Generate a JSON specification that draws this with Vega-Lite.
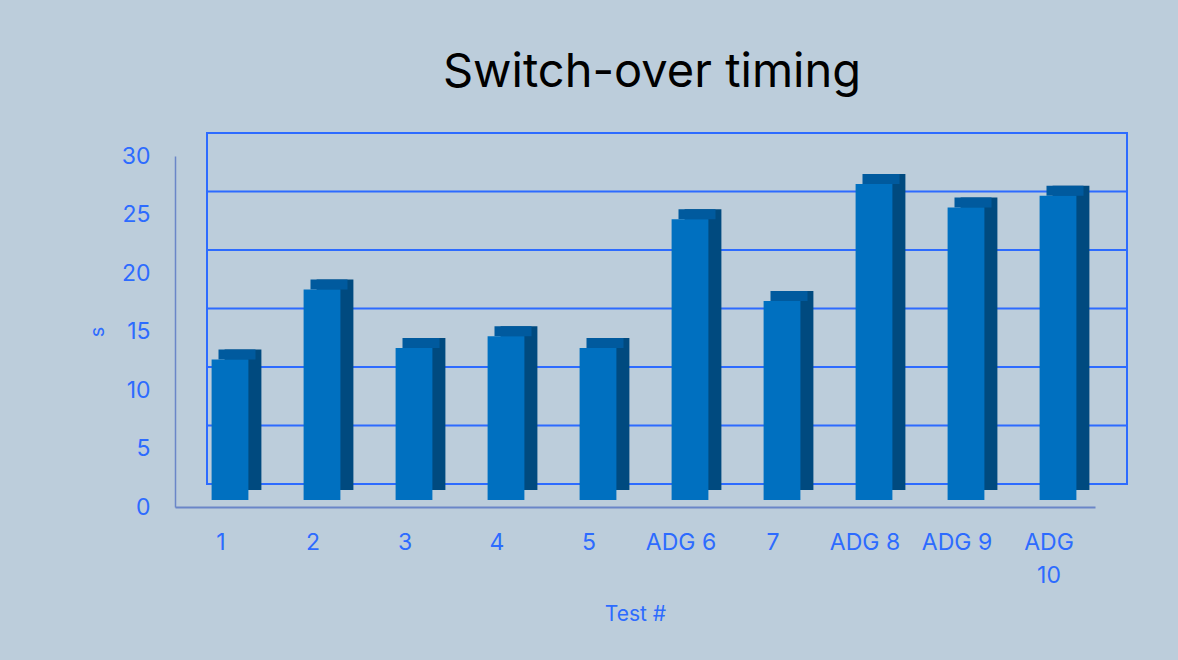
{
  "$schema": "https://vega.github.io/schema/vega-lite/v6.json",
  "autosize": "none",
  "width": 920,
  "height": 351,
  "padding": {"left": 207, "top": 133, "right": 51, "bottom": 176},
  "background": "#bccddb",
  "title": {
    "text": "Switch-over timing",
    "font": "Inter",
    "fontSize": 47,
    "fontWeight": "normal",
    "color": "#000000",
    "anchor": "middle",
    "frame": "group",
    "baseline": "alphabetic",
    "dx": -15,
    "offset": -2
  },
  "config": {
    "view": {"stroke": "#2d6bff", "strokeWidth": 2},
    "font": "Inter"
  },
  "datasets": {
    "tests": [
      {"test": "1", "time": 12},
      {"test": "2", "time": 18},
      {"test": "3", "time": 13},
      {"test": "4", "time": 14},
      {"test": "5", "time": 13},
      {"test": "ADG 6", "time": 24},
      {"test": "7", "time": 17},
      {"test": "ADG 8", "time": 27},
      {"test": "ADG 9", "time": 25},
      {"test": "ADG 10", "time": 26}
    ],
    "grid": [
      {"time": 0}, {"time": 5}, {"time": 10}, {"time": 15}, {"time": 20}, {"time": 25}, {"time": 30}
    ]
  },
  "encoding": {
    "y": {
      "field": "time",
      "type": "quantitative",
      "scale": {"domain": [0, 30], "nice": false},
      "axis": {
        "title": "s",
        "values": [0, 5, 10, 15, 20, 25, 30],
        "offset": 32,
        "position": 23,
        "ticks": false,
        "tickSize": 0,
        "grid": false,
        "domainColor": "#6a86c8",
        "domainWidth": 1.5,
        "labelPadding": 25,
        "labelFont": "Inter",
        "labelFontSize": 23,
        "labelColor": "#2d6bff",
        "titleFont": "Inter",
        "titleFontSize": 20,
        "titleFontWeight": "normal",
        "titleColor": "#2d6bff",
        "titlePadding": 14
      }
    }
  },
  "layer": [
    {
      "data": {"name": "grid"},
      "mark": {"type": "rule", "color": "#2d6bff", "strokeWidth": 2}
    },
    {
      "data": {"name": "tests"},
      "encoding": {
        "x": {
          "field": "test",
          "type": "nominal",
          "sort": null,
          "scale": {"paddingInner": 0.6, "paddingOuter": 0.3},
          "axis": {
            "title": "Test #",
            "labelAngle": 0,
            "position": -32,
            "offset": 23,
            "ticks": false,
            "tickSize": 0,
            "domainColor": "#6a86c8",
            "domainWidth": 2,
            "labelPadding": 24,
            "labelFont": "Inter",
            "labelFontSize": 23,
            "labelColor": "#2d6bff",
            "labelLineHeight": 33,
            "labelExpr": "datum.label == 'ADG 10' ? ['ADG', '10'] : datum.label",
            "titleFont": "Inter",
            "titleFontSize": 21,
            "titleFontWeight": "normal",
            "titleColor": "#2d6bff",
            "titlePadding": 16
          }
        }
      },
      "layer": [
        {"mark": {"type": "bar", "color": "#004a7f", "xOffset": -10, "yOffset": 6}},
        {"mark": {"type": "tick", "color": "#005a9e", "opacity": 1, "xOffset": -16, "yOffset": 11, "thickness": 10, "size": 37}},
        {"mark": {"type": "bar", "color": "#0070c0", "xOffset": -23, "yOffset": 16}}
      ]
    }
  ]
}
